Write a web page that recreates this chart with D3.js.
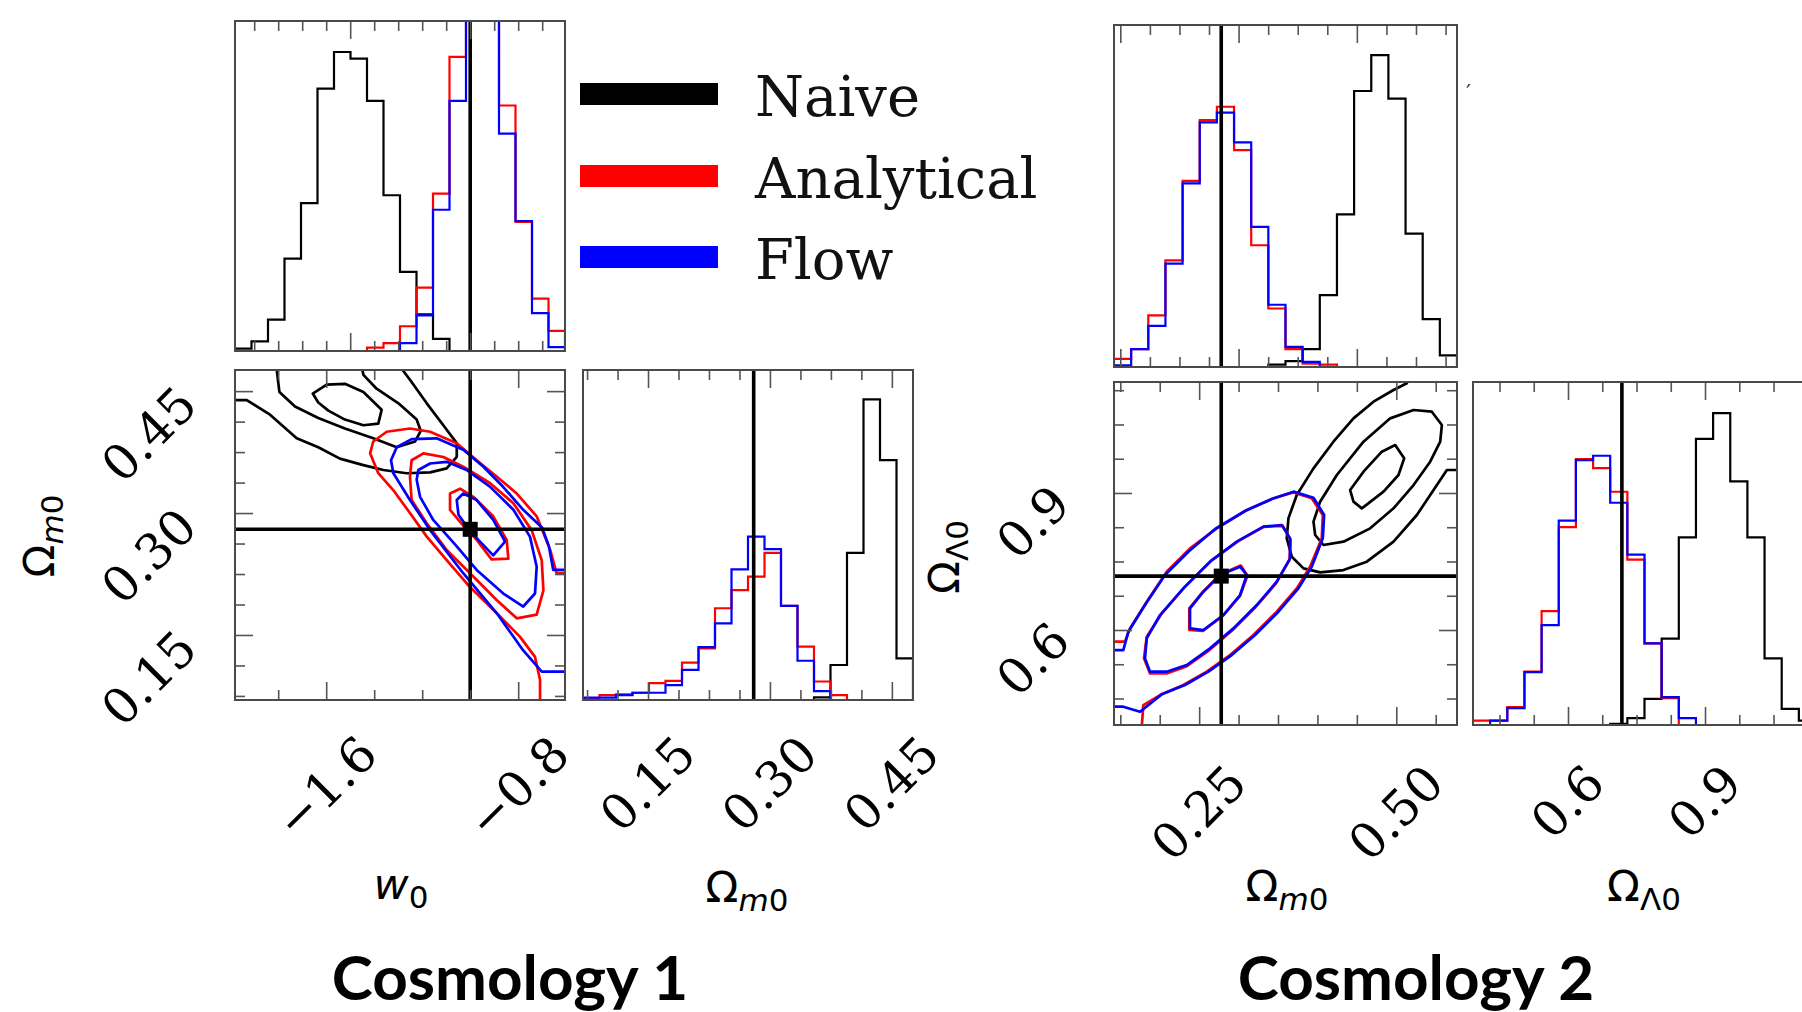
<!DOCTYPE html>
<html>
<head>
<meta charset="utf-8">
<script src="https://cdn.jsdelivr.net/npm/d3@7"></script>
<style>
	body { margin: 0; background: #fff; }
</style>
</head>
<body>
<script>

// ---- axis ranges / truth values ----
var w0Range = [-1.98, -0.605];
var om1Range = [0.070, 0.476];
var om2Range = [0.142, 0.577];
var ol2Range = [0.392, 1.143];
var truth1 = [-1.0, 0.28];     // w0, Om
var truth2 = [0.278, 0.718];   // Om, OL

// ---- tick values ----
var w0HistMajor = [-1.5, -1.0];
var w0HistMinor = [-1.9, -1.8, -1.7, -1.6, -1.4, -1.3, -1.2, -1.1, -0.9, -0.8, -0.7];
var w0Major = [-1.6, -0.8];
var w0Minor = [-1.8, -1.4, -1.2, -1.0];
var w0Labels = ["\u22121.6", "\u22120.8"];
var om1Major = [0.15, 0.30, 0.45];
var om1Minor = [0.075, 0.1125, 0.1875, 0.225, 0.2625, 0.3375, 0.375, 0.4125];
var om1Labels = ["0.15", "0.30", "0.45"];
var om2HistMajor = [0.15, 0.30, 0.45];
var om2HistMinor = [0.1875, 0.225, 0.2625, 0.3375, 0.375, 0.4125, 0.4875, 0.525, 0.5625];
var om2Major = [0.25, 0.50];
var om2Minor = [0.15, 0.20, 0.30, 0.35, 0.40, 0.45, 0.55];
var om2Labels = ["0.25", "0.50"];
var ol2Major = [0.6, 0.9];
var ol2Minor = [0.45, 0.525, 0.675, 0.75, 0.825, 0.975, 1.05, 1.125];
var ol2Labels = ["0.6", "0.9"];

// ---- histograms (20 bins over the axis range, height as fraction of panel) ----
var naive1W0      = [0.007, 0.029, 0.095, 0.280, 0.448, 0.795, 0.906, 0.886, 0.758, 0.472, 0.240, 0.111, 0.037, 0, 0, 0, 0, 0, 0, 0];
var analytical1W0 = [0, 0, 0, 0, 0, 0, 0, 0, 0.010, 0.024, 0.075, 0.192, 0.477, 0.891, 1.15, 1.10, 0.744, 0.391, 0.159, 0.061];
var flow1W0       = [0, 0, 0, 0, 0, 0, 0, 0, 0, 0, 0.024, 0.108, 0.428, 0.758, 1.20, 1.10, 0.659, 0.394, 0.115, 0.012];

var naive1Om      = [0, 0, 0, 0, 0, 0, 0, 0, 0, 0, 0, 0, 0, 0, 0.008, 0.106, 0.446, 0.911, 0.727, 0.126];
var analytical1Om = [0.005, 0.015, 0.017, 0.022, 0.051, 0.058, 0.113, 0.156, 0.278, 0.333, 0.374, 0.446, 0.285, 0.162, 0.056, 0.015, 0, 0, 0, 0];
var flow1Om       = [0.007, 0.007, 0.015, 0.022, 0.022, 0.045, 0.091, 0.160, 0.232, 0.396, 0.495, 0.457, 0.285, 0.119, 0.027, 0, 0, 0, 0, 0];

var naive2Om      = [0, 0, 0, 0, 0, 0, 0, 0, 0, 0.007, 0.017, 0.052, 0.210, 0.446, 0.807, 0.912, 0.785, 0.390, 0.140, 0.034];
var analytical2Om = [0.024, 0.052, 0.151, 0.312, 0.544, 0.722, 0.761, 0.634, 0.356, 0.171, 0.052, 0.010, 0.007, 0, 0, 0, 0, 0, 0, 0];
var flow2Om       = [0.005, 0.052, 0.120, 0.302, 0.537, 0.715, 0.744, 0.657, 0.410, 0.182, 0.059, 0.015, 0, 0, 0, 0, 0, 0, 0, 0];

var naive2OL      = [0, 0, 0, 0, 0, 0, 0, 0, 0.003, 0.020, 0.076, 0.252, 0.547, 0.834, 0.909, 0.710, 0.547, 0.194, 0.047, 0.013];
var analytical2OL = [0.013, 0.013, 0.052, 0.156, 0.332, 0.577, 0.775, 0.749, 0.680, 0.482, 0.238, 0.078, 0, 0, 0, 0, 0, 0, 0, 0];
var flow2OL       = [0, 0.013, 0.049, 0.154, 0.291, 0.596, 0.772, 0.785, 0.648, 0.497, 0.238, 0.081, 0.020, 0, 0, 0, 0, 0, 0, 0];

// ---- 2D contours, cosmology 1 (w0, Om) ----
var naive1Inner = [[-1.656,0.447],[-1.598,0.458],[-1.522,0.459],[-1.445,0.449],[-1.369,0.427],[-1.383,0.410],[-1.445,0.408],[-1.522,0.415],[-1.591,0.426],[-1.633,0.436]];
var naive1Mid = [[-1.806,0.480],[-1.806,0.476],[-1.795,0.449],[-1.730,0.431],[-1.633,0.417],[-1.522,0.404],[-1.404,0.392],[-1.306,0.381],[-1.230,0.388],[-1.206,0.401],[-1.223,0.415],[-1.299,0.435],[-1.390,0.453],[-1.445,0.470],[-1.452,0.480]];
var naive1Outer = [[-1.99,0.439],[-1.931,0.439],[-1.834,0.421],[-1.723,0.392],[-1.633,0.381],[-1.543,0.367],[-1.445,0.359],[-1.362,0.353],[-1.265,0.349],[-1.167,0.350],[-1.098,0.355],[-1.056,0.369],[-1.056,0.386],[-1.112,0.408],[-1.181,0.435],[-1.251,0.464],[-1.292,0.480]];
var analytical1Outer = [[-0.60,0.226],[-0.640,0.226],[-0.667,0.255],[-0.723,0.296],[-0.806,0.324],[-0.890,0.345],[-0.973,0.365],[-1.056,0.386],[-1.167,0.400],[-1.251,0.404],[-1.348,0.400],[-1.404,0.388],[-1.417,0.3735],[-1.383,0.349],[-1.320,0.328],[-1.251,0.300],[-1.181,0.271],[-1.098,0.242],[-1.001,0.209],[-0.890,0.177],[-0.793,0.148],[-0.730,0.123],[-0.709,0.095],[-0.709,0.065]];
var flow1Outer = [[-0.60,0.230],[-0.654,0.230],[-0.672,0.259],[-0.700,0.282],[-0.779,0.304],[-0.862,0.332],[-0.945,0.357],[-1.029,0.378],[-1.140,0.392],[-1.244,0.391],[-1.306,0.381],[-1.330,0.365],[-1.320,0.349],[-1.251,0.316],[-1.167,0.279],[-1.029,0.226],[-0.890,0.177],[-0.779,0.131],[-0.702,0.105],[-0.60,0.105]];
var analytical1Mid = [[-1.244,0.365],[-1.195,0.3735],[-1.112,0.369],[-1.029,0.357],[-0.918,0.337],[-0.820,0.312],[-0.744,0.279],[-0.702,0.242],[-0.695,0.205],[-0.723,0.175],[-0.806,0.1705],[-0.890,0.193],[-0.987,0.222],[-1.098,0.2545],[-1.181,0.2874],[-1.244,0.316],[-1.251,0.345]];
var flow1Mid = [[-1.216,0.353],[-1.167,0.361],[-1.098,0.363],[-1.015,0.353],[-0.918,0.3325],[-0.820,0.304],[-0.751,0.271],[-0.723,0.234],[-0.730,0.201],[-0.779,0.185],[-0.862,0.201],[-0.973,0.230],[-1.056,0.259],[-1.154,0.2915],[-1.209,0.320],[-1.223,0.341]];
var analytical1Inner = [[-1.084,0.324],[-1.042,0.330],[-0.987,0.320],[-0.904,0.296],[-0.848,0.267],[-0.841,0.244],[-0.911,0.243],[-0.973,0.267],[-1.036,0.287],[-1.084,0.304]];
var flow1Inner = [[-1.056,0.316],[-1.029,0.324],[-0.973,0.316],[-0.904,0.2915],[-0.855,0.265],[-0.904,0.248],[-0.966,0.267],[-1.008,0.281],[-1.049,0.298]];

// ---- 2D contours, cosmology 2 (Om, OL) ----
var naive2Inner = [[0.4415,0.9065],[0.4584,0.9466],[0.4817,0.9904],[0.4986,1.0050],[0.5100,0.9758],[0.5028,0.9394],[0.4838,0.9029],[0.4563,0.8664],[0.4457,0.8810]];
var naive2Mid = [[0.3950,0.8372],[0.4034,0.8810],[0.4246,0.9394],[0.4584,1.0123],[0.4923,1.0634],[0.5219,1.0817],[0.5451,1.0780],[0.5578,1.0488],[0.5557,1.0123],[0.5430,0.9685],[0.5219,0.9174],[0.4965,0.8664],[0.4669,0.8226],[0.4330,0.7934],[0.4077,0.7861],[0.3971,0.8080]];
var naive2Outer = [[0.5134,1.150],[0.5134,1.1401],[0.4965,1.1255],[0.4711,1.0999],[0.4457,1.0634],[0.4203,1.0123],[0.3950,0.9539],[0.3738,0.8956],[0.3632,0.8445],[0.3611,0.8007],[0.3675,0.7605],[0.3823,0.7350],[0.4034,0.7262],[0.4330,0.7313],[0.4626,0.7496],[0.4965,0.7934],[0.5261,0.8518],[0.5515,0.9174],[0.5642,0.9503],[0.580,0.9503]];
var analytical2Outer = [[0.135,0.5744],[0.1560,0.5744],[0.1623,0.6036],[0.1835,0.6620],[0.2088,0.7277],[0.2384,0.7788],[0.2723,0.8226],[0.3104,0.8627],[0.3442,0.8883],[0.3696,0.9014],[0.3928,0.8883],[0.4068,0.8518],[0.4055,0.8007],[0.3907,0.7386],[0.3738,0.6912],[0.3484,0.6401],[0.3188,0.5890],[0.2892,0.5452],[0.2596,0.5087],[0.2300,0.4795],[0.2004,0.4576],[0.1792,0.4357],[0.1771,0.385]];
var flow2Outer = [[0.135,0.5561],[0.1538,0.5561],[0.1602,0.5963],[0.1813,0.6547],[0.2067,0.7204],[0.2363,0.7715],[0.2702,0.8211],[0.3082,0.8605],[0.3421,0.8868],[0.3696,0.9029],[0.3950,0.8897],[0.4085,0.8518],[0.4068,0.8007],[0.3928,0.7386],[0.3759,0.6912],[0.3505,0.6401],[0.3209,0.5890],[0.2913,0.5452],[0.2617,0.5087],[0.2321,0.4795],[0.2025,0.4591],[0.1750,0.4211],[0.1538,0.4321],[0.135,0.4321]];
var analytical2Mid = [[0.1877,0.505],[0.180,0.5379],[0.1835,0.585],[0.2025,0.636],[0.232,0.695],[0.266,0.753],[0.300,0.795],[0.332,0.826],[0.356,0.828],[0.366,0.797],[0.3645,0.753],[0.3475,0.702],[0.322,0.651],[0.2925,0.600],[0.263,0.556],[0.2335,0.520],[0.2088,0.505]];
var flow2Mid = [[0.1877,0.5087],[0.1813,0.5379],[0.1835,0.5817],[0.2004,0.6328],[0.2300,0.6912],[0.2638,0.7496],[0.2977,0.7934],[0.3315,0.8262],[0.3548,0.8299],[0.3653,0.8007],[0.3653,0.7569],[0.3484,0.7058],[0.3230,0.6547],[0.2934,0.6036],[0.2638,0.5598],[0.2342,0.5233],[0.2088,0.5087]];
var analytical2Inner = [[0.2375,0.600],[0.2375,0.6474],[0.2554,0.685],[0.2774,0.722],[0.3028,0.741],[0.3113,0.719],[0.3019,0.675],[0.280,0.631],[0.2545,0.598]];
var flow2Inner = [[0.2384,0.6036],[0.2384,0.6474],[0.2554,0.6839],[0.2765,0.7204],[0.3019,0.7386],[0.3104,0.7204],[0.3019,0.6766],[0.2808,0.6328],[0.2554,0.5999]];

var seriesNames = ["Naive", "Analytical", "Flow"];
var seriesColors = ["#000000", "#ff0000", "#0000ff"];

// -------------------------------------------------------------

var svg = d3.select("body").append("svg")
	.attr("width", 1802)
	.attr("height", 1012);
svg.append("rect").attr("width", 1802).attr("height", 1012).attr("fill", "#fff");
var defs = svg.append("defs");

var tickFont = "DejaVu Serif";
var tickSize = 49;

function makePanel(id, x0, y0, w, h)
{
	var g = svg.append("g").attr("transform", "translate(" + x0 + "," + y0 + ")");
	defs.append("clipPath").attr("id", id)
		.append("rect").attr("width", w).attr("height", h);
	var inner = g.append("g").attr("clip-path", "url(#" + id + ")");
	return {g: g, inner: inner, w: w, h: h};
}

function drawTicks(p, x, xMaj, xMin, y, yMaj, yMin)
{
	var sides = [];
	if (x) {
		sides.push([d3.axisBottom(x), "translate(0," + p.h + ")", xMaj, xMin]);
		sides.push([d3.axisTop(x), "translate(0,0)", xMaj, xMin]);
	}
	if (y) {
		sides.push([d3.axisLeft(y), "translate(0,0)", yMaj, yMin]);
		sides.push([d3.axisRight(y), "translate(" + p.w + ",0)", yMaj, yMin]);
	}
	sides.forEach(function (s) {
		[[s[2], 18], [s[3], 10]].forEach(function (set) {
			var ax = p.g.append("g").attr("transform", s[1])
				.call(s[0].tickValues(set[0]).tickSize(-set[1]).tickFormat(""));
			ax.select(".domain").remove();
			ax.selectAll("line").attr("stroke", "#555").attr("stroke-width", 1.6);
		});
	});
}

function drawFrame(p)
{
	p.g.append("rect").attr("width", p.w).attr("height", p.h)
		.attr("fill", "none").attr("stroke", "#4a4a4a").attr("stroke-width", 2);
}

function histPoints(range, vals)
{
	var n = vals.length, step = (range[1] - range[0]) / n;
	var first = 0, last = n - 1;
	while (vals[first] === 0) first++;
	while (vals[last] === 0) last--;
	var pts = [[range[0] + first * step, 0]];
	for (var i = first; i <= last; i++) {
		pts.push([range[0] + i * step, vals[i]]);
		pts.push([range[0] + (i + 1) * step, vals[i]]);
	}
	pts.push([range[0] + (last + 1) * step, 0]);
	return pts;
}

function drawHist(p, x, range, sets, truthX)
{
	var y = d3.scaleLinear().domain([0, 1]).range([p.h, 0]);
	var line = d3.line().x(function (d) { return x(d[0]); }).y(function (d) { return y(d[1]); });
	sets.forEach(function (vals, i) {
		p.inner.append("path").attr("d", line(histPoints(range, vals)))
			.attr("fill", "none").attr("stroke", seriesColors[i]).attr("stroke-width", 2.2);
	});
	p.inner.append("line").attr("x1", x(truthX)).attr("x2", x(truthX))
		.attr("y1", 0).attr("y2", p.h).attr("stroke", "#000").attr("stroke-width", 3.6);
}

function drawContours(p, x, y, groups, truth)
{
	groups.forEach(function (grp, i) {
		grp.forEach(function (c) {
			var line = d3.line().x(function (d) { return x(d[0]); }).y(function (d) { return y(d[1]); })
				.curve(c.closed ? d3.curveLinearClosed : d3.curveLinear);
			p.inner.append("path").attr("d", line(c.pts))
				.attr("fill", "none").attr("stroke", seriesColors[i]).attr("stroke-width", 2.7)
				.attr("stroke-linejoin", "round");
		});
	});
	p.inner.append("line").attr("x1", x(truth[0])).attr("x2", x(truth[0]))
		.attr("y1", 0).attr("y2", p.h).attr("stroke", "#000").attr("stroke-width", 3.6);
	p.inner.append("line").attr("x1", 0).attr("x2", p.w)
		.attr("y1", y(truth[1])).attr("y2", y(truth[1])).attr("stroke", "#000").attr("stroke-width", 3.6);
	p.inner.append("rect").attr("x", x(truth[0]) - 7.5).attr("y", y(truth[1]) - 7.5)
		.attr("width", 15).attr("height", 15).attr("fill", "#000");
}

function xTickLabels(p, x, vals, labels, top)
{
	vals.forEach(function (v, i) {
		var t = p.g.append("text").text(labels[i])
			.attr("font-family", tickFont).attr("font-size", tickSize)
			.attr("text-anchor", "middle").attr("dominant-baseline", "central");
		var L = t.node().getComputedTextLength();
		var H = (L + 0.73 * tickSize) / Math.SQRT2;
		t.attr("transform", "translate(" + x(v) + "," + (p.h + top + H / 2) + ") rotate(-45)");
	});
}

function yTickLabels(p, y, vals, labels, pad, dy)
{
	vals.forEach(function (v, i) {
		p.g.append("text").text(labels[i])
			.attr("font-family", tickFont).attr("font-size", tickSize)
			.attr("text-anchor", "end").attr("dominant-baseline", "central")
			.attr("transform", "translate(" + (-pad) + "," + (y(v) + dy) + ") rotate(-45)");
	});
}

// parts: [text, italic, subscript]
function mathLabel(x, y, rot, parts)
{
	var t = svg.append("text")
		.attr("font-family", "DejaVu Sans").attr("font-size", 43)
		.attr("text-anchor", "middle")
		.attr("transform", "translate(" + x + "," + y + ") rotate(" + rot + ")");
	var inSub = false;
	parts.forEach(function (pt) {
		var s = t.append("tspan").text(pt[0]);
		if (pt[1]) s.attr("font-style", "italic");
		if (pt[2]) {
			s.attr("font-size", 31);
			if (!inSub) s.attr("dy", 9);
			inSub = true;
		}
	});
	return t;
}

function c(pts, closed) { return {pts: pts, closed: closed}; }

// ================= Cosmology 1 =================
var p1 = makePanel("clip1", 235, 21, 330, 330);
var p2 = makePanel("clip2", 235, 370, 330, 330);
var p3 = makePanel("clip3", 583, 370, 330, 330);

var xW0 = d3.scaleLinear().domain(w0Range).range([0, 330]);
var xOm1 = d3.scaleLinear().domain(om1Range).range([0, 330]);
var yOm1 = d3.scaleLinear().domain(om1Range).range([330, 0]);

drawHist(p1, xW0, w0Range, [naive1W0, analytical1W0, flow1W0], truth1[0]);
drawTicks(p1, xW0, w0HistMajor, w0HistMinor, null);
drawFrame(p1);

drawContours(p2, xW0, yOm1, [
	[c(naive1Outer, false), c(naive1Mid, false), c(naive1Inner, true)],
	[c(analytical1Outer, false), c(analytical1Mid, true), c(analytical1Inner, true)],
	[c(flow1Outer, false), c(flow1Mid, true), c(flow1Inner, true)]
], truth1);
drawTicks(p2, xW0, w0Major, w0Minor, yOm1, om1Major, om1Minor);
drawFrame(p2);
xTickLabels(p2, xW0, w0Major, w0Labels, 33);
yTickLabels(p2, yOm1, om1Major, om1Labels, 47, 5);

drawHist(p3, xOm1, om1Range, [naive1Om, analytical1Om, flow1Om], truth1[1]);
drawTicks(p3, xOm1, om1Major, om1Minor, null);
drawFrame(p3);
xTickLabels(p3, xOm1, om1Major, om1Labels, 33);

mathLabel(54, 536, -90, [["\u03A9", false, false], ["m", true, true], ["0", false, true]]);
mathLabel(401, 899, 0, [["w", true, false], ["0", false, true]]);
mathLabel(747, 902, 0, [["\u03A9", false, false], ["m", true, true], ["0", false, true]]);

// ================= Cosmology 2 =================
var p4 = makePanel("clip4", 1114, 25, 343, 342);
var p5 = makePanel("clip5", 1114, 382, 343, 343);
var p6 = makePanel("clip6", 1473, 382, 343, 343);

var xOm2 = d3.scaleLinear().domain(om2Range).range([0, 343]);
var xOL2 = d3.scaleLinear().domain(ol2Range).range([0, 343]);
var yOL2 = d3.scaleLinear().domain(ol2Range).range([343, 0]);

drawHist(p4, xOm2, om2Range, [naive2Om, analytical2Om, flow2Om], truth2[0]);
drawTicks(p4, xOm2, om2HistMajor, om2HistMinor, null);
drawFrame(p4);

drawContours(p5, xOm2, yOL2, [
	[c(naive2Outer, false), c(naive2Mid, true), c(naive2Inner, true)],
	[c(analytical2Outer, false), c(analytical2Mid, true), c(analytical2Inner, true)],
	[c(flow2Outer, false), c(flow2Mid, true), c(flow2Inner, true)]
], truth2);
drawTicks(p5, xOm2, om2Major, om2Minor, yOL2, ol2Major, ol2Minor);
drawFrame(p5);
xTickLabels(p5, xOm2, om2Major, om2Labels, 37);
yTickLabels(p5, yOL2, ol2Major, ol2Labels, 53, 2);

drawHist(p6, xOL2, ol2Range, [naive2OL, analytical2OL, flow2OL], truth2[1]);
drawTicks(p6, xOL2, ol2Major, ol2Minor, null);
drawFrame(p6);
xTickLabels(p6, xOL2, ol2Major, ol2Labels, 37);

mathLabel(959, 557, -90, [["\u03A9", false, false], ["\u039B", false, true], ["0", false, true]]);
mathLabel(1287, 901, 0, [["\u03A9", false, false], ["m", true, true], ["0", false, true]]);
mathLabel(1644, 901, 0, [["\u03A9", false, false], ["\u039B", false, true], ["0", false, true]]);

// stray mark next to the top-right panel
svg.append("text").text("\u2032").attr("x", 1466).attr("y", 100)
	.attr("font-family", "DejaVu Sans").attr("font-size", 22).attr("fill", "#333");

// ================= legend =================
var legendY = [94, 176, 257];
seriesNames.forEach(function (name, i) {
	svg.append("rect").attr("x", 580).attr("y", legendY[i] - 11)
		.attr("width", 138).attr("height", 22).attr("fill", seriesColors[i]);
	svg.append("text").text(name).attr("x", 755).attr("y", legendY[i] + 22)
		.attr("font-family", "DejaVu Serif").attr("font-size", 56).attr("fill", "#111");
});

// ================= titles =================
svg.append("text").text("Cosmology 1").attr("x", 510).attr("y", 1000)
	.attr("text-anchor", "middle").attr("font-family", "Lato").attr("font-weight", 700)
	.attr("font-size", 62).attr("fill", "#000");
svg.append("text").text("Cosmology 2").attr("x", 1416).attr("y", 1000)
	.attr("text-anchor", "middle").attr("font-family", "Lato").attr("font-weight", 700)
	.attr("font-size", 62).attr("fill", "#000");

</script>
</body>
</html>
